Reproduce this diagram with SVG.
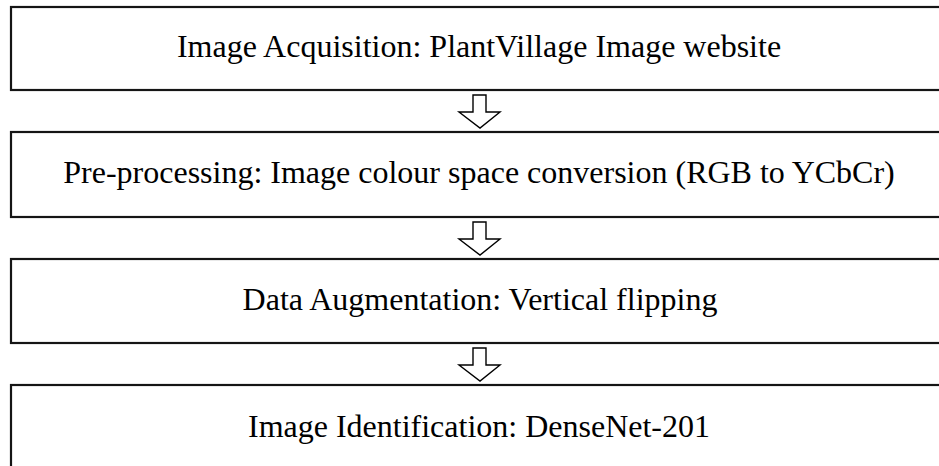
<svg xmlns="http://www.w3.org/2000/svg" width="939" height="466" viewBox="0 0 939 466">
  <style>
    .box { fill: #ffffff; stroke: #151515; stroke-width: 2.2; }
    .label { font-family: "Liberation Serif", "Times New Roman", serif; font-size: 32px; fill: #000000; text-anchor: middle; }
    .arrow { fill: #ffffff; stroke: #000000; stroke-width: 1.4; stroke-linejoin: miter; }
  </style>
  <defs>
    <!-- hollow block arrow pointing down, origin at the shaft's top centre -->
    <path id="down" class="arrow" d="M -7 0 H 6 V 17 H 20 L 0 33 L -21 17 H -7 Z"/>
  </defs>
  <rect width="939" height="466" fill="#ffffff"/>

  <g id="step-acquisition">
    <rect class="box" x="11" y="7" width="960" height="83"/>
    <text class="label" x="479" y="57" font-family="Liberation Serif, serif">Image Acquisition: PlantVillage Image website</text>
  </g>
  <g id="step-preprocessing">
    <rect class="box" x="11" y="132" width="960" height="85"/>
    <text class="label" x="479" y="183" font-family="Liberation Serif, serif">Pre-processing: Image colour space conversion (RGB to YCbCr)</text>
  </g>
  <g id="step-augmentation">
    <rect class="box" x="11" y="259" width="960" height="84"/>
    <text class="label" x="480" y="310" font-family="Liberation Serif, serif">Data Augmentation: Vertical flipping</text>
  </g>
  <g id="step-identification">
    <rect class="box" x="11" y="385" width="960" height="100"/>
    <text class="label" x="479" y="437" font-family="Liberation Serif, serif">Image Identification: DenseNet-201</text>
  </g>

  <g id="connectors">
    <use href="#down" x="480" y="95"/>
    <use href="#down" x="480" y="222"/>
    <use href="#down" x="480" y="348"/>
  </g>
</svg>
